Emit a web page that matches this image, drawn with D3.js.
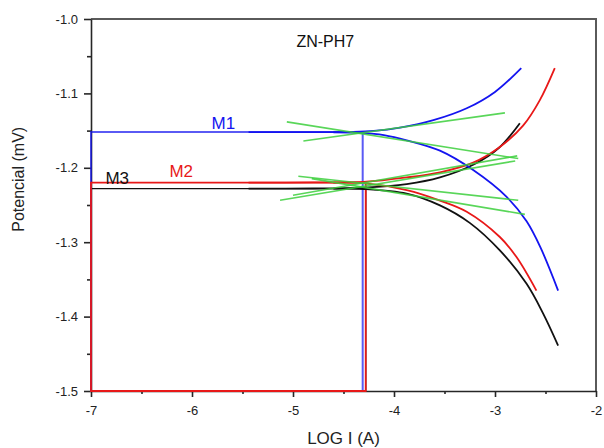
<!DOCTYPE html>
<html>
<head>
<meta charset="utf-8">
<script src="https://cdn.jsdelivr.net/npm/d3@7"></script>
<style>
  html, body { margin: 0; padding: 0; background: #fff; }
  svg { display: block; font-family: 'Liberation Sans', Arial, sans-serif; }
</style>
</head>
<body>
<div id="chart"></div>
<script>
'use strict';

// Tafel plot, zinc at pH 7
const title = 'ZN-PH7';
const xLabel = 'LOG I (A)';
const yLabel = 'Potencial (mV)';
const xTicks = [-7, -6, -5, -4, -3, -2];
const yTicks = [-1.0, -1.1, -1.2, -1.3, -1.4, -1.5];

// drawing order: black first, red last (red sits on top in the boxes)
const series = ['M3', 'M1', 'M2'];
const ecorr = [-1.228, -1.152, -1.2198];
const logIcorr = [-4.28, -4.31, -4.28];

// anodic branches (upper), [log I, E]
const m1Anodic = [[-5.44, -1.152], [-4.8, -1.1521], [-4.435, -1.1518], [-4.2, -1.1505], [-3.94, -1.146],
  [-3.61, -1.136], [-3.28, -1.120], [-3.0, -1.098], [-2.74, -1.066]];
const m2Anodic = [[-5.44, -1.2198], [-4.8, -1.2197], [-4.30, -1.219], [-3.874, -1.213], [-3.545, -1.206],
  [-3.216, -1.193], [-2.952, -1.172], [-2.72, -1.143], [-2.556, -1.109], [-2.408, -1.066]];
const m3Anodic = [[-5.44, -1.228], [-4.8, -1.2278], [-4.30, -1.2267], [-3.874, -1.222], [-3.545, -1.213],
  [-3.216, -1.196], [-2.96, -1.173], [-2.754, -1.140]];

// cathodic branches (lower)
const m1Cathodic = [[-4.6, -1.1522], [-4.317, -1.153], [-4.1, -1.156], [-3.874, -1.163], [-3.545, -1.177],
  [-3.216, -1.203], [-2.885, -1.239], [-2.687, -1.272], [-2.55, -1.307], [-2.375, -1.365]];
const m2Cathodic = [[-4.6, -1.2199], [-4.30, -1.2205], [-3.874, -1.230], [-3.545, -1.244], [-3.28, -1.259],
  [-2.952, -1.293], [-2.787, -1.320], [-2.59, -1.365]];
const m3Cathodic = [[-4.6, -1.228], [-4.30, -1.2285], [-3.874, -1.2347], [-3.545, -1.2505], [-3.25, -1.274],
  [-2.952, -1.311], [-2.687, -1.356], [-2.523, -1.396], [-2.375, -1.439]];

// Tafel fit lines
const tangents = [
  [[-4.897, -1.1639], [-2.902, -1.1262]],
  [[-5.061, -1.1383], [-2.770, -1.1876]],
  [[-4.947, -1.2114], [-2.770, -1.2437]],
  [[-4.814, -1.2145], [-2.704, -1.2626]],
  [[-5.128, -1.2437], [-2.800, -1.1908]],
  [[-5.000, -1.2370], [-2.780, -1.1840]]
];

const colors = { M1: '#1414f0', M2: '#e81818', M3: '#111111' };

class TafelChart {
  constructor() {
    this._width = 604;
    this._height = 448;
    this._margin = { top: 19, right: 8, bottom: 57, left: 91 };
    this._svg = {};
    this._x = {};
    this._y = {};

    this._init();
    this._drawAxes();
    this._drawSeries();
    this._drawText();
  }

  _init() {
    this._svg = d3.select('#chart').append('svg')
      .attr('width', this._width)
      .attr('height', this._height);

    this._x = d3.scaleLinear()
      .domain([-7, -2])
      .range([this._margin.left, this._width - this._margin.right]);
    this._y = d3.scaleLinear()
      .domain([-1.5, -1.0])
      .range([this._height - this._margin.bottom, this._margin.top]);
  }

  _drawAxes() {
    const x = this._x;
    const y = this._y;
    const [x0, x1] = x.range();
    const [y0, y1] = y.range();

    // top + right frame
    this._svg.append('path')
      .attr('d', `M${x0},${y1}H${x1}V${y0}`)
      .attr('fill', 'none')
      .attr('stroke', '#5a5a5a')
      .attr('stroke-width', 2);

    const xAxis = this._svg.append('g')
      .attr('transform', `translate(0,${y0})`)
      .call(d3.axisBottom(x).tickValues(xTicks).tickFormat(d => d.toFixed(0)).tickSize(6).tickSizeOuter(0));
    this._svg.append('g')
      .attr('transform', `translate(0,${y0})`)
      .call(d3.axisBottom(x).tickValues(d3.range(-6.5, -2, 1)).tickFormat('').tickSize(3).tickSizeOuter(0))
      .select('.domain').remove();

    const yAxis = this._svg.append('g')
      .attr('transform', `translate(${x0},0)`)
      .call(d3.axisLeft(y).tickValues(yTicks).tickFormat(d => d.toFixed(1)).tickSize(7).tickSizeOuter(0));
    this._svg.append('g')
      .attr('transform', `translate(${x0},0)`)
      .call(d3.axisLeft(y).tickValues([-1.05, -1.15, -1.25, -1.35, -1.45]).tickFormat('').tickSize(4).tickSizeOuter(0))
      .select('.domain').remove();

    this._svg.selectAll('.domain, .tick line')
      .attr('stroke', '#262626')
      .attr('stroke-width', 1.6);
    xAxis.selectAll('text').attr('font-size', 13).attr('fill', '#222').attr('dy', '1.15em');
    yAxis.selectAll('text').attr('font-size', 13).attr('fill', '#222').attr('x', -13);
  }

  _drawSeries() {
    const x = this._x;
    const y = this._y;
    const plot = this._svg.append('g');

    // corrosion point boxes: E corr level and log I corr drop
    series.forEach((name, i) => {
      plot.append('path')
        .attr('d', `M${x(-7)},${y(ecorr[i])}H${x(logIcorr[i])}V${y(-1.5)}H${x(-7)}Z`)
        .attr('fill', 'none')
        .attr('stroke', colors[name])
        .attr('stroke-opacity', name === 'M1' ? 0.7 : 1)
        .attr('stroke-width', name === 'M3' ? 1.4 : (name === 'M1' ? 2 : 1.8));
    });

    const line = d3.line()
      .x(d => x(d[0]))
      .y(d => y(d[1]))
      .curve(d3.curveCatmullRom.alpha(0.5));

    const branches = [
      { name: 'M3', data: m3Cathodic }, { name: 'M3', data: m3Anodic },
      { name: 'M2', data: m2Cathodic }, { name: 'M2', data: m2Anodic },
      { name: 'M1', data: m1Cathodic }, { name: 'M1', data: m1Anodic }
    ];
    plot.selectAll('path.branch')
      .data(branches)
      .enter()
      .append('path')
      .attr('class', 'branch')
      .attr('d', d => line(d.data))
      .attr('fill', 'none')
      .attr('stroke', d => colors[d.name])
      .attr('stroke-width', 1.8);

    plot.selectAll('path.tangent')
      .data(tangents)
      .enter()
      .append('path')
      .attr('class', 'tangent')
      .attr('d', d => d3.line().x(p => x(p[0])).y(p => y(p[1]))(d))
      .attr('fill', 'none')
      .attr('stroke', '#3ccf3c')
      .attr('stroke-opacity', 0.85)
      .attr('stroke-width', 1.6);
  }

  _drawText() {
    const x = this._x;
    const y = this._y;
    const [y0] = y.range();

    this._svg.append('text')
      .attr('x', x(-4.68))
      .attr('y', 47)
      .attr('text-anchor', 'middle')
      .attr('font-size', 16)
      .attr('fill', '#111')
      .text(title);

    this._svg.append('text')
      .attr('x', x(-4.5))
      .attr('y', y0 + 53)
      .attr('text-anchor', 'middle')
      .attr('font-size', 17)
      .attr('fill', '#222')
      .text(xLabel);

    this._svg.append('text')
      .attr('transform', `translate(24,${y(-1.2155)}) rotate(-90)`)
      .attr('text-anchor', 'middle')
      .attr('font-size', 16)
      .attr('fill', '#222')
      .text(yLabel);

    const labels = [
      { name: 'M1', lx: -5.69, ly: -1.1472 },
      { name: 'M2', lx: -6.107, ly: -1.2117 },
      { name: 'M3', lx: -6.74, ly: -1.2224 }
    ];
    this._svg.selectAll('text.mlabel')
      .data(labels)
      .enter()
      .append('text')
      .attr('class', 'mlabel')
      .attr('x', d => x(d.lx))
      .attr('y', d => y(d.ly))
      .attr('text-anchor', 'middle')
      .attr('font-size', 17)
      .attr('fill', d => colors[d.name])
      .text(d => d.name);
  }
}

new TafelChart();
</script>
</body>
</html>
